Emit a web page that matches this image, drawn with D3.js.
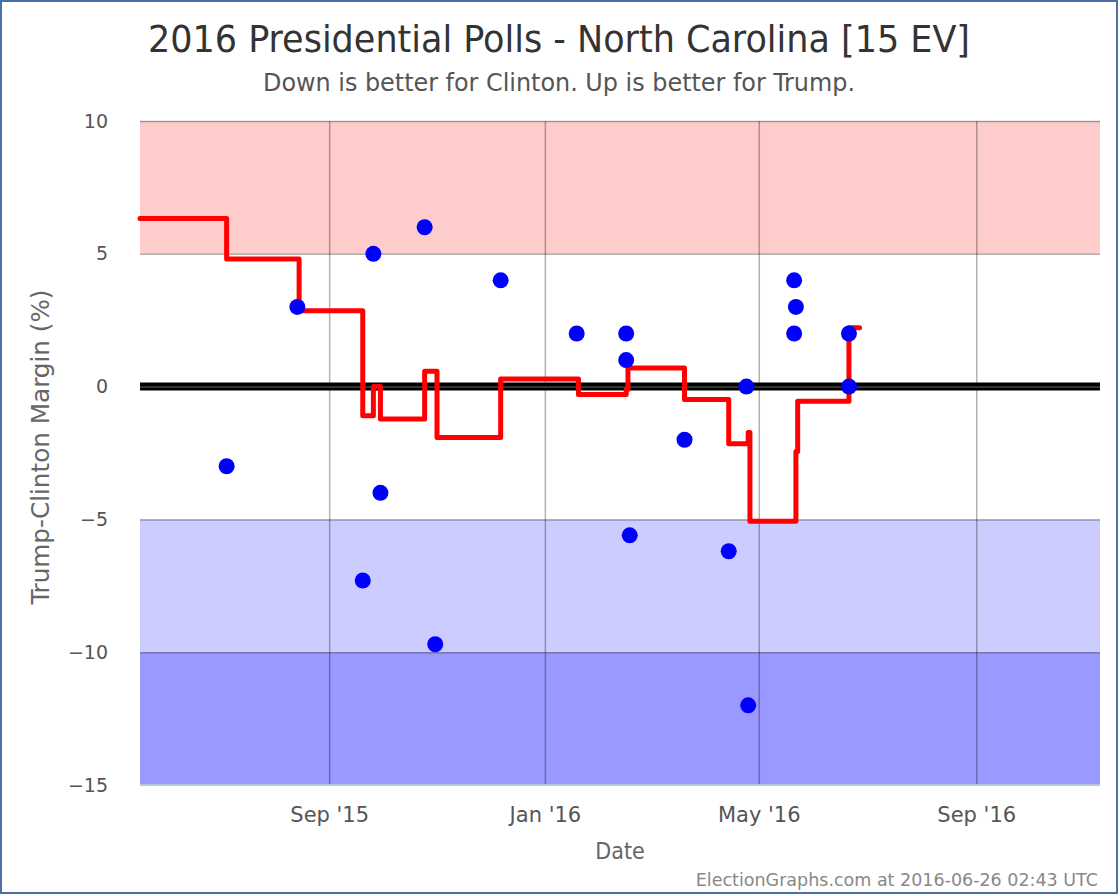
<!DOCTYPE html>
<html>
<head>
<meta charset="utf-8">
<script src="https://d3js.org/d3.v7.min.js"></script>
<style>
  html, body { margin: 0; padding: 0; background: #fff; }
  svg { display: block; }
  text { font-family: "DejaVu Sans", sans-serif; }
  .cond { font-family: "DejaVu Sans Condensed", "DejaVu Sans", sans-serif; font-stretch: condensed; }
</style>
</head>
<body>
<div id="chart"></div>
<script>
// ---- Data ----
const titleText = "2016 Presidential Polls - North Carolina [15 EV]";
const subtitleText = "Down is better for Clinton. Up is better for Trump.";
const footerText = "ElectionGraphs.com at 2016-06-26 02:43 UTC";

const xDomain = ["2015-05-17", "2016-11-10"];
const yDomain = [-15, 10];

const xTickDates = ["2015-09-01", "2016-01-01", "2016-05-01", "2016-09-01"];
const xTickLabels = ["Sep '15", "Jan '16", "May '16", "Sep '16"];
const yTickValues = [10, 5, 0, -5, -10, -15];
const yTickLabels = ["10", "5", "0", "\u22125", "\u221210", "\u221215"];

// colored bands: [from, to]
const bandFrom = [5, -5, -10];
const bandTo = [10, -10, -15];
const bandColors = ["#ffcccc", "#ccccff", "#9999ff"];

// poll results
const pollDates = ["2015-07-05", "2015-08-14", "2015-09-20", "2015-09-26", "2015-09-30",
  "2015-10-25", "2015-10-31", "2015-12-07", "2016-01-19", "2016-02-16", "2016-02-16",
  "2016-02-18", "2016-03-20", "2016-04-14", "2016-04-24", "2016-04-25", "2016-05-21",
  "2016-05-22", "2016-05-21", "2016-06-21", "2016-06-21"];
const pollMargins = [-3, 3, -7.3, 5, -4, 6, -9.7, 4, 2, 2, 1, -5.6, -2, -6.2, 0, -12, 4, 3, 2, 2, 0];

// running average (step line)
const avgDates = ["2015-05-17", "2015-07-05", "2015-08-15", "2015-09-20", "2015-09-26",
  "2015-09-30", "2015-10-25", "2015-11-01", "2015-12-07", "2016-01-20", "2016-02-16",
  "2016-02-17", "2016-03-20", "2016-04-14", "2016-04-25", "2016-04-26", "2016-05-22",
  "2016-05-23", "2016-06-21", "2016-06-27"];
const avgMargins = [6.33, 4.8, 2.86, -1.1, 0.0, -1.22, 0.58, -1.92, 0.29, -0.3, -0.11,
  0.7, -0.49, -2.15, -1.73, -5.07, -2.44, -0.55, 2.22, 2.22];

// ---- Layout ----
const W = 1120, H = 896;
const plot = { left: 140, right: 1100, top: 121, bottom: 785 };
const parse = d3.utcParse("%Y-%m-%d");

const svg = d3.select("#chart").append("svg").attr("width", W).attr("height", H);

const x = d3.scaleUtc().domain(xDomain.map(parse)).range([plot.left, plot.right]);
const y = d3.scaleLinear().domain(yDomain).range([plot.bottom, plot.top]);

// bands
svg.append("g").selectAll("rect").data(bandColors).join("rect")
  .attr("x", plot.left)
  .attr("width", plot.right - plot.left)
  .attr("y", (d, i) => y(Math.max(bandTo[i], bandFrom[i])))
  .attr("height", (d, i) => Math.abs(y(bandTo[i]) - y(bandFrom[i])))
  .attr("fill", d => d);

// zero line
svg.append("line")
  .attr("x1", plot.left).attr("x2", plot.right)
  .attr("y1", y(0)).attr("y2", y(0))
  .attr("stroke", "#000").attr("stroke-width", 8);

// grid via axes
const gx = svg.append("g")
  .attr("transform", `translate(0,${plot.bottom})`)
  .call(d3.axisBottom(x)
    .tickValues(xTickDates.map(parse))
    .tickSize(-(plot.bottom - plot.top))
    .tickFormat((d, i) => xTickLabels[i]));
gx.select(".domain").remove();
gx.selectAll(".tick line").attr("stroke", "#000").attr("stroke-opacity", 0.3).attr("stroke-width", 1.5);
gx.selectAll(".tick text")
  .attr("dy", null).attr("y", 37)
  .attr("fill", "#555").attr("font-size", 21).attr("font-family", "DejaVu Sans");

const gy = svg.append("g")
  .attr("transform", `translate(${plot.left},0)`)
  .call(d3.axisLeft(y)
    .tickValues(yTickValues)
    .tickSize(-(plot.right - plot.left))
    .tickPadding(32)
    .tickFormat((d, i) => yTickLabels[i]));
gy.select(".domain").remove();
gy.selectAll(".tick line")
  .attr("stroke", d => d === 0 ? "#444" : "#000")
  .attr("stroke-opacity", d => d === -15 ? 0 : (d === 0 ? 1 : 0.3))
  .attr("stroke-width", 1.5);
gy.selectAll(".tick text")
  .attr("fill", "#555").attr("font-size", 19).attr("font-family", "DejaVu Sans");

// bottom axis line
svg.append("line")
  .attr("x1", plot.left).attr("x2", plot.right)
  .attr("y1", plot.bottom).attr("y2", plot.bottom)
  .attr("stroke", "#b8c8dc").attr("stroke-width", 2);

// average step line
const avg = avgDates.map((d, i) => ({ date: parse(d), v: avgMargins[i] }));
svg.append("path")
  .datum(avg)
  .attr("fill", "none")
  .attr("stroke", "#ff0000")
  .attr("stroke-width", 5)
  .attr("stroke-linejoin", "round")
  .attr("stroke-linecap", "round")
  .attr("d", d3.line().x(d => x(d.date)).y(d => y(d.v)).curve(d3.curveStepAfter));

// poll points
const polls = pollDates.map((d, i) => ({ date: parse(d), v: pollMargins[i] }));
svg.append("g").selectAll("circle").data(polls).join("circle")
  .attr("cx", d => x(d.date))
  .attr("cy", d => y(d.v))
  .attr("r", 8)
  .attr("fill", "#0000ff");

// titles
svg.append("text").attr("class", "cond")
  .attr("x", 559).attr("y", 52)
  .attr("text-anchor", "middle")
  .attr("font-size", 38).attr("fill", "#333")
  .attr("textLength", 822).attr("lengthAdjust", "spacingAndGlyphs")
  .text(titleText);

svg.append("text").attr("class", "cond")
  .attr("x", 559).attr("y", 91)
  .attr("text-anchor", "middle")
  .attr("font-size", 24).attr("fill", "#555")
  .attr("textLength", 592).attr("lengthAdjust", "spacingAndGlyphs")
  .text(subtitleText);

svg.append("text").attr("class", "cond")
  .attr("transform", `translate(49,447) rotate(-90)`)
  .attr("text-anchor", "middle")
  .attr("font-size", 24).attr("fill", "#666")
  .attr("textLength", 315).attr("lengthAdjust", "spacingAndGlyphs")
  .text("Trump-Clinton Margin (%)");

svg.append("text").attr("class", "cond")
  .attr("x", 620).attr("y", 859)
  .attr("text-anchor", "middle")
  .attr("font-size", 23).attr("fill", "#666")
  .text("Date");

svg.append("text")
  .attr("x", 1098).attr("y", 886)
  .attr("text-anchor", "end")
  .attr("font-size", 17.5).attr("fill", "#888")
  .text(footerText);

// frame
svg.append("rect")
  .attr("x", 1).attr("y", 1).attr("width", 1116).attr("height", 892)
  .attr("fill", "none").attr("stroke", "#4a70a5").attr("stroke-width", 2);
</script>
</body>
</html>
